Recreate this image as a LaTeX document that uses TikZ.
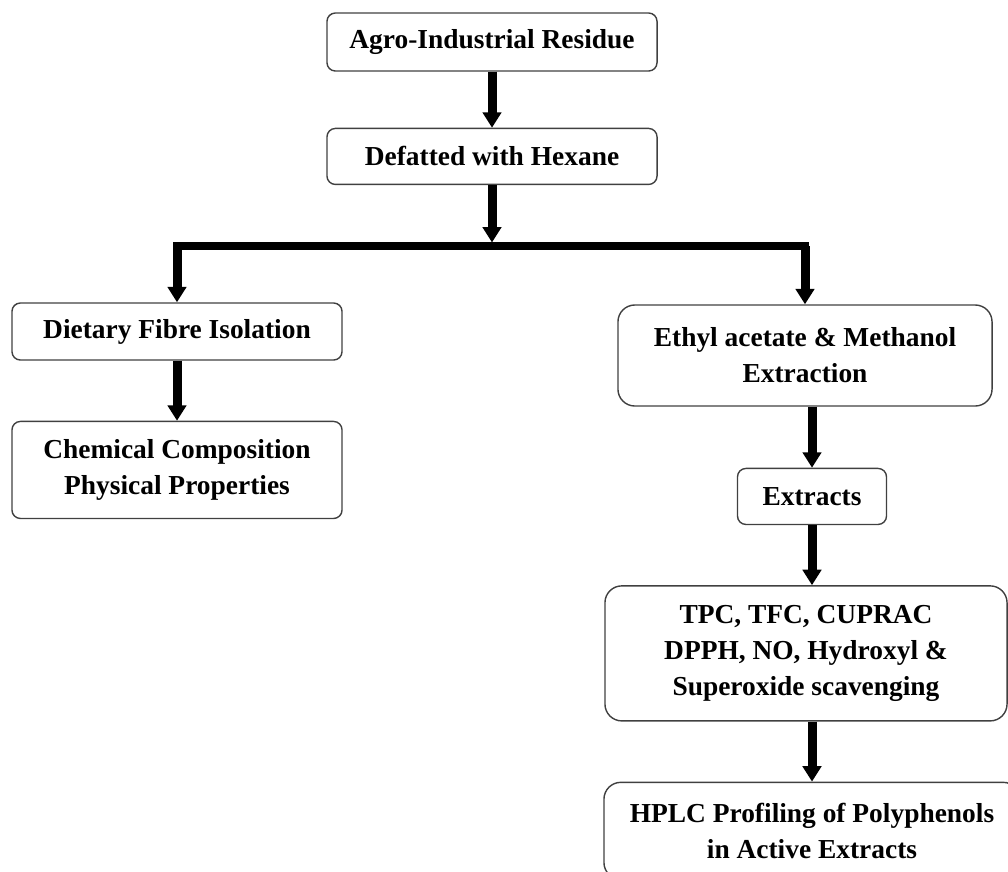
\documentclass[tikz,border=0pt]{standalone}
\usepackage{fontspec}
\setmainfont{Liberation Serif}
\usetikzlibrary{positioning,arrows.meta}

\begin{document}
\begin{tikzpicture}[x=0.025cm, y=-0.025cm,
  box/.style = {draw=black!75, line width=1pt, rounded corners=6pt, align=center,
    inner sep=2pt, font=\fontsize{19.5}{25.6}\selectfont\bfseries},
  bigbox/.style = {box, rounded corners=12pt},
  arr/.style = {line width=6.4pt, -{Triangle[width=13pt, length=11pt]}},
  bar/.style = {line width=5pt, line cap=rect}]
        \useasboundingbox (0,0) rectangle (1008,871);
        \node[box, minimum width=8.25cm, minimum height=1.45cm] (agro) at (492,42) {Agro-Industrial Residue};
        \node[box, minimum width=8.25cm, minimum height=1.4cm] (defat) [below=1.4cm of agro] {Defatted with Hexane};
        \coordinate (split) at (492,246);
        \node[box, minimum width=8.25cm, minimum height=1.425cm] (fibre) at (177,331.5) {Dietary Fibre Isolation};
        \node[box, minimum width=8.25cm, minimum height=2.425cm] (chem) [below=1.5cm of fibre] {Chemical Composition\\Physical Properties};
        \node[bigbox, minimum width=9.35cm, minimum height=2.525cm] (ethyl) at (805,355.5) {Ethyl acetate \& Methanol\\Extraction};
        \node[box, minimum width=3.725cm, minimum height=1.4cm] (extr) [below=1.525cm of ethyl, xshift=0.175cm] {Extracts};
        \node[bigbox, minimum width=10.05cm, minimum height=3.375cm] (assay) [below=1.5cm of extr, xshift=-0.15cm] {TPC, TFC, CUPRAC\\DPPH, NO, Hydroxyl \&\\Superoxide scavenging};
        \node[bigbox, minimum width=10.4cm, minimum height=2.425cm] (hplc) [below=1.5cm of assay, xshift=0.15cm] {HPLC Profiling of Polyphenols\\in Active Extracts};
        \draw[arr] (agro) -- (defat);
        \draw[arr, shorten >=2.5pt] (defat) -- (split);
        \draw[bar] (split -| fibre) -- (split -| ethyl);
        \draw[arr] (split -| fibre) -- (fibre);
        \draw[arr] (split -| ethyl) -- (ethyl);
        \draw[arr] (fibre) -- (chem);
        \draw[arr] (ethyl.south -| extr) -- (extr);
        \draw[arr] (extr) -- (extr |- assay.north);
        \draw[arr] (assay.south -| hplc) -- (hplc);
    \end{tikzpicture}
\end{document}
